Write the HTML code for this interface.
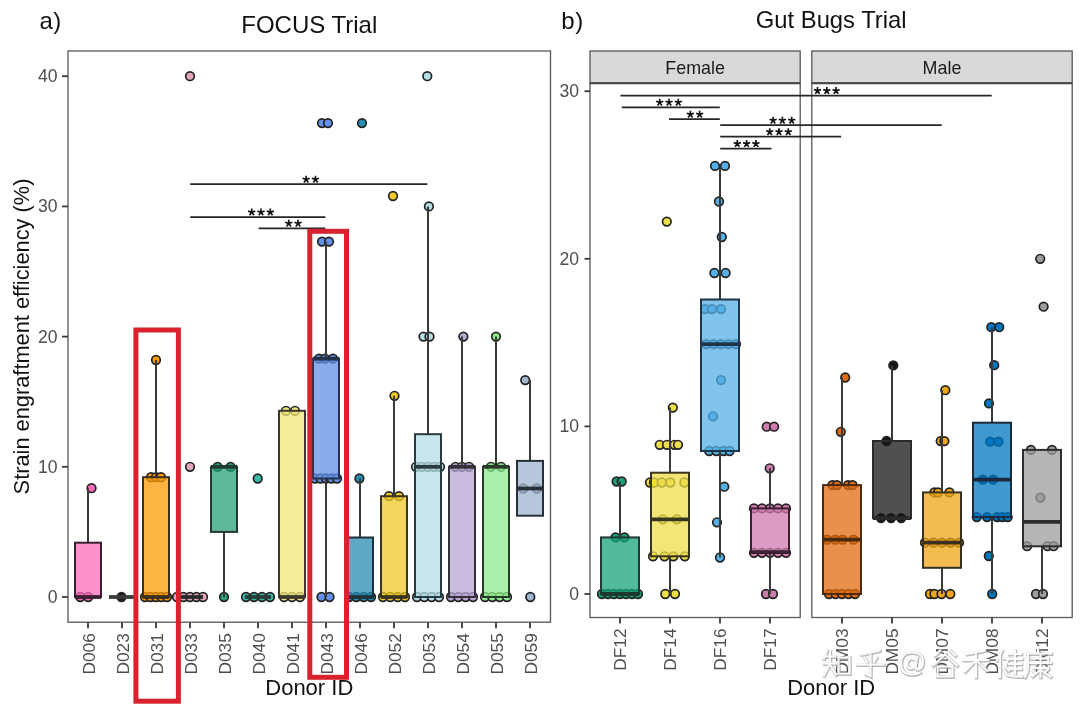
<!DOCTYPE html>
<html><head><meta charset="utf-8"><style>
html,body{margin:0;padding:0;background:#fff;width:1080px;height:708px;overflow:hidden;position:relative}
</style></head><body>
<svg width="1080" height="708" viewBox="0 0 1080 708" style="position:absolute;left:0;top:0;filter:blur(0.3px)">
<rect width="1080" height="708" fill="#ffffff"/>
<text x="39.6" y="29.3" font-family='"Liberation Sans", sans-serif' font-size="24" fill="#111">a</text><text x="53.2" y="29.3" font-family='"Liberation Sans", sans-serif' font-size="24" fill="#111">)</text>
<text x="309.3" y="33.3" text-anchor="middle" font-family='"Liberation Sans", sans-serif' font-size="24" fill="#111">FOCUS Trial</text>
<text x="561.3" y="29.1" font-family='"Liberation Sans", sans-serif' font-size="24" fill="#111">b</text><text x="575.2" y="29.1" font-family='"Liberation Sans", sans-serif' font-size="24" fill="#111">)</text>
<text x="831.2" y="28.2" text-anchor="middle" font-family='"Liberation Sans", sans-serif' font-size="23.8" fill="#111">Gut Bugs Trial</text>
<rect x="68" y="51" width="482.5" height="571.2" fill="none" stroke="#585858" stroke-width="1.3"/>
<line x1="62" y1="597.0" x2="68" y2="597.0" stroke="#3a3a3a" stroke-width="1.8"/>
<text x="57.5" y="603.0" text-anchor="end" font-family='"Liberation Sans", sans-serif' font-size="17.6" fill="#4d4d4d">0</text>
<line x1="62" y1="466.8" x2="68" y2="466.8" stroke="#3a3a3a" stroke-width="1.8"/>
<text x="57.5" y="472.8" text-anchor="end" font-family='"Liberation Sans", sans-serif' font-size="17.6" fill="#4d4d4d">10</text>
<line x1="62" y1="336.6" x2="68" y2="336.6" stroke="#3a3a3a" stroke-width="1.8"/>
<text x="57.5" y="342.6" text-anchor="end" font-family='"Liberation Sans", sans-serif' font-size="17.6" fill="#4d4d4d">20</text>
<line x1="62" y1="206.4" x2="68" y2="206.4" stroke="#3a3a3a" stroke-width="1.8"/>
<text x="57.5" y="212.4" text-anchor="end" font-family='"Liberation Sans", sans-serif' font-size="17.6" fill="#4d4d4d">30</text>
<line x1="62" y1="76.2" x2="68" y2="76.2" stroke="#3a3a3a" stroke-width="1.8"/>
<text x="57.5" y="82.2" text-anchor="end" font-family='"Liberation Sans", sans-serif' font-size="17.6" fill="#4d4d4d">40</text>
<line x1="88" y1="622.2" x2="88" y2="628.2" stroke="#3a3a3a" stroke-width="1.8"/>
<text transform="translate(94.6,633.2) rotate(-90)" text-anchor="end" font-family='"Liberation Sans", sans-serif' font-size="17.3" fill="#4d4d4d">D006</text>
<line x1="122" y1="622.2" x2="122" y2="628.2" stroke="#3a3a3a" stroke-width="1.8"/>
<text transform="translate(128.6,633.2) rotate(-90)" text-anchor="end" font-family='"Liberation Sans", sans-serif' font-size="17.3" fill="#4d4d4d">D023</text>
<line x1="156" y1="622.2" x2="156" y2="628.2" stroke="#3a3a3a" stroke-width="1.8"/>
<text transform="translate(162.6,633.2) rotate(-90)" text-anchor="end" font-family='"Liberation Sans", sans-serif' font-size="17.3" fill="#4d4d4d">D031</text>
<line x1="190" y1="622.2" x2="190" y2="628.2" stroke="#3a3a3a" stroke-width="1.8"/>
<text transform="translate(196.6,633.2) rotate(-90)" text-anchor="end" font-family='"Liberation Sans", sans-serif' font-size="17.3" fill="#4d4d4d">D033</text>
<line x1="224" y1="622.2" x2="224" y2="628.2" stroke="#3a3a3a" stroke-width="1.8"/>
<text transform="translate(230.6,633.2) rotate(-90)" text-anchor="end" font-family='"Liberation Sans", sans-serif' font-size="17.3" fill="#4d4d4d">D035</text>
<line x1="258" y1="622.2" x2="258" y2="628.2" stroke="#3a3a3a" stroke-width="1.8"/>
<text transform="translate(264.6,633.2) rotate(-90)" text-anchor="end" font-family='"Liberation Sans", sans-serif' font-size="17.3" fill="#4d4d4d">D040</text>
<line x1="292" y1="622.2" x2="292" y2="628.2" stroke="#3a3a3a" stroke-width="1.8"/>
<text transform="translate(298.6,633.2) rotate(-90)" text-anchor="end" font-family='"Liberation Sans", sans-serif' font-size="17.3" fill="#4d4d4d">D041</text>
<line x1="326" y1="622.2" x2="326" y2="628.2" stroke="#3a3a3a" stroke-width="1.8"/>
<text transform="translate(332.6,633.2) rotate(-90)" text-anchor="end" font-family='"Liberation Sans", sans-serif' font-size="17.3" fill="#4d4d4d">D043</text>
<line x1="360" y1="622.2" x2="360" y2="628.2" stroke="#3a3a3a" stroke-width="1.8"/>
<text transform="translate(366.6,633.2) rotate(-90)" text-anchor="end" font-family='"Liberation Sans", sans-serif' font-size="17.3" fill="#4d4d4d">D046</text>
<line x1="394" y1="622.2" x2="394" y2="628.2" stroke="#3a3a3a" stroke-width="1.8"/>
<text transform="translate(400.6,633.2) rotate(-90)" text-anchor="end" font-family='"Liberation Sans", sans-serif' font-size="17.3" fill="#4d4d4d">D052</text>
<line x1="428" y1="622.2" x2="428" y2="628.2" stroke="#3a3a3a" stroke-width="1.8"/>
<text transform="translate(434.6,633.2) rotate(-90)" text-anchor="end" font-family='"Liberation Sans", sans-serif' font-size="17.3" fill="#4d4d4d">D053</text>
<line x1="462" y1="622.2" x2="462" y2="628.2" stroke="#3a3a3a" stroke-width="1.8"/>
<text transform="translate(468.6,633.2) rotate(-90)" text-anchor="end" font-family='"Liberation Sans", sans-serif' font-size="17.3" fill="#4d4d4d">D054</text>
<line x1="496" y1="622.2" x2="496" y2="628.2" stroke="#3a3a3a" stroke-width="1.8"/>
<text transform="translate(502.6,633.2) rotate(-90)" text-anchor="end" font-family='"Liberation Sans", sans-serif' font-size="17.3" fill="#4d4d4d">D055</text>
<line x1="530" y1="622.2" x2="530" y2="628.2" stroke="#3a3a3a" stroke-width="1.8"/>
<text transform="translate(536.6,633.2) rotate(-90)" text-anchor="end" font-family='"Liberation Sans", sans-serif' font-size="17.3" fill="#4d4d4d">D059</text>
<text transform="translate(28.5,336.5) rotate(-90)" text-anchor="middle" font-family='"Liberation Sans", sans-serif' font-size="21.8" fill="#111">Strain engraftment efficiency (%)</text>
<text x="309.3" y="695" text-anchor="middle" font-family='"Liberation Sans", sans-serif' font-size="22" fill="#111">Donor ID</text>
<circle cx="80.3" cy="597.0" r="4.3" fill="#fb6bbb" stroke="#222" stroke-width="1.7" fill-opacity="1"/>
<circle cx="88.2" cy="597.0" r="4.3" fill="#fb6bbb" stroke="#222" stroke-width="1.7" fill-opacity="1"/>
<circle cx="91.5" cy="488.2" r="4.3" fill="#fb6bbb" stroke="#222" stroke-width="1.7" fill-opacity="1"/>
<line x1="88" y1="542.7" x2="88" y2="488.2" stroke="#3a3a3a" stroke-width="2"/>
<rect x="75.0" y="542.7" width="26" height="54.3" fill="#fb6bbb" fill-opacity="0.75" stroke="#3a2030" stroke-width="2"/>
<line x1="75.0" y1="597.0" x2="101.0" y2="597.0" stroke="#3a2030" stroke-width="3.8"/>
<circle cx="121.5" cy="597.0" r="4.3" fill="#1c1c1c" stroke="#222" stroke-width="1.7" fill-opacity="1"/>
<rect x="109.0" y="597.0" width="26" height="0.0" fill="#1c1c1c" fill-opacity="0.75" stroke="#3a3a3a" stroke-width="2"/>
<line x1="109.0" y1="597.0" x2="135.0" y2="597.0" stroke="#3a3a3a" stroke-width="3.8"/>
<circle cx="151.0" cy="477.2" r="4.3" fill="#fc9b04" stroke="#222" stroke-width="1.7" fill-opacity="1"/>
<circle cx="156.0" cy="477.2" r="4.3" fill="#fc9b04" stroke="#222" stroke-width="1.7" fill-opacity="1"/>
<circle cx="161.0" cy="477.2" r="4.3" fill="#fc9b04" stroke="#222" stroke-width="1.7" fill-opacity="1"/>
<circle cx="145.0" cy="597.0" r="4.3" fill="#fc9b04" stroke="#222" stroke-width="1.7" fill-opacity="1"/>
<circle cx="150.5" cy="597.0" r="4.3" fill="#fc9b04" stroke="#222" stroke-width="1.7" fill-opacity="1"/>
<circle cx="156.0" cy="597.0" r="4.3" fill="#fc9b04" stroke="#222" stroke-width="1.7" fill-opacity="1"/>
<circle cx="161.5" cy="597.0" r="4.3" fill="#fc9b04" stroke="#222" stroke-width="1.7" fill-opacity="1"/>
<circle cx="167.0" cy="597.0" r="4.3" fill="#fc9b04" stroke="#222" stroke-width="1.7" fill-opacity="1"/>
<circle cx="156.0" cy="360.0" r="4.3" fill="#fc9b04" stroke="#222" stroke-width="1.7" fill-opacity="1"/>
<line x1="156" y1="477.2" x2="156" y2="360.0" stroke="#3a3a3a" stroke-width="2"/>
<rect x="143.0" y="477.2" width="26" height="119.8" fill="#fc9b04" fill-opacity="0.75" stroke="#3a3020" stroke-width="2"/>
<line x1="143.0" y1="597.0" x2="169.0" y2="597.0" stroke="#3a3020" stroke-width="3.8"/>
<circle cx="177.0" cy="597.0" r="4.3" fill="#e6a6c0" stroke="#222" stroke-width="1.7" fill-opacity="1"/>
<circle cx="183.5" cy="597.0" r="4.3" fill="#e6a6c0" stroke="#222" stroke-width="1.7" fill-opacity="1"/>
<circle cx="190.0" cy="597.0" r="4.3" fill="#e6a6c0" stroke="#222" stroke-width="1.7" fill-opacity="1"/>
<circle cx="196.5" cy="597.0" r="4.3" fill="#e6a6c0" stroke="#222" stroke-width="1.7" fill-opacity="1"/>
<circle cx="203.0" cy="597.0" r="4.3" fill="#e6a6c0" stroke="#222" stroke-width="1.7" fill-opacity="1"/>
<circle cx="190.0" cy="76.2" r="4.3" fill="#e6a6c0" stroke="#222" stroke-width="1.7" fill-opacity="1"/>
<circle cx="190.0" cy="466.8" r="4.3" fill="#e6a6c0" stroke="#222" stroke-width="1.7" fill-opacity="1"/>
<rect x="177.0" y="597.0" width="26" height="0.0" fill="#e6a6c0" fill-opacity="0.75" stroke="#2a2a2a" stroke-width="2"/>
<line x1="177.0" y1="597.0" x2="203.0" y2="597.0" stroke="#2a2a2a" stroke-width="3.8"/>
<circle cx="217.6" cy="466.8" r="4.3" fill="#26a076" stroke="#222" stroke-width="1.7" fill-opacity="1"/>
<circle cx="230.6" cy="466.8" r="4.3" fill="#26a076" stroke="#222" stroke-width="1.7" fill-opacity="1"/>
<circle cx="224.0" cy="597.0" r="4.3" fill="#26a076" stroke="#222" stroke-width="1.7" fill-opacity="1"/>
<line x1="224" y1="531.9" x2="224" y2="597.0" stroke="#3a3a3a" stroke-width="2"/>
<rect x="211.0" y="466.8" width="26" height="65.1" fill="#26a076" fill-opacity="0.75" stroke="#203a30" stroke-width="2"/>
<line x1="211.0" y1="466.8" x2="237.0" y2="466.8" stroke="#203a30" stroke-width="3.8"/>
<circle cx="246.0" cy="597.0" r="4.3" fill="#3bb6a4" stroke="#222" stroke-width="1.7" fill-opacity="1"/>
<circle cx="254.0" cy="597.0" r="4.3" fill="#3bb6a4" stroke="#222" stroke-width="1.7" fill-opacity="1"/>
<circle cx="262.0" cy="597.0" r="4.3" fill="#3bb6a4" stroke="#222" stroke-width="1.7" fill-opacity="1"/>
<circle cx="270.0" cy="597.0" r="4.3" fill="#3bb6a4" stroke="#222" stroke-width="1.7" fill-opacity="1"/>
<circle cx="257.7" cy="478.5" r="4.3" fill="#3bb6a4" stroke="#222" stroke-width="1.7" fill-opacity="1"/>
<rect x="245.0" y="597.0" width="26" height="0.0" fill="#3bb6a4" fill-opacity="0.75" stroke="#2a3a38" stroke-width="2"/>
<line x1="245.0" y1="597.0" x2="271.0" y2="597.0" stroke="#2a3a38" stroke-width="3.8"/>
<circle cx="286.0" cy="410.8" r="4.3" fill="#f2e67b" stroke="#222" stroke-width="1.7" fill-opacity="1"/>
<circle cx="295.0" cy="410.8" r="4.3" fill="#f2e67b" stroke="#222" stroke-width="1.7" fill-opacity="1"/>
<circle cx="284.0" cy="597.0" r="4.3" fill="#f2e67b" stroke="#222" stroke-width="1.7" fill-opacity="1"/>
<circle cx="292.0" cy="597.0" r="4.3" fill="#f2e67b" stroke="#222" stroke-width="1.7" fill-opacity="1"/>
<circle cx="300.0" cy="597.0" r="4.3" fill="#f2e67b" stroke="#222" stroke-width="1.7" fill-opacity="1"/>
<rect x="279.0" y="410.8" width="26" height="186.2" fill="#f2e67b" fill-opacity="0.75" stroke="#3a3830" stroke-width="2"/>
<line x1="279.0" y1="597.0" x2="305.0" y2="597.0" stroke="#3a3830" stroke-width="3.8"/>
<circle cx="322.0" cy="123.1" r="4.3" fill="#6390e8" stroke="#222" stroke-width="1.7" fill-opacity="1"/>
<circle cx="328.0" cy="123.1" r="4.3" fill="#6390e8" stroke="#222" stroke-width="1.7" fill-opacity="1"/>
<circle cx="322.0" cy="241.6" r="4.3" fill="#6390e8" stroke="#222" stroke-width="1.7" fill-opacity="1"/>
<circle cx="329.0" cy="241.6" r="4.3" fill="#6390e8" stroke="#222" stroke-width="1.7" fill-opacity="1"/>
<circle cx="319.0" cy="358.7" r="4.3" fill="#6390e8" stroke="#222" stroke-width="1.7" fill-opacity="1"/>
<circle cx="325.0" cy="358.7" r="4.3" fill="#6390e8" stroke="#222" stroke-width="1.7" fill-opacity="1"/>
<circle cx="333.0" cy="358.7" r="4.3" fill="#6390e8" stroke="#222" stroke-width="1.7" fill-opacity="1"/>
<circle cx="315.0" cy="478.5" r="4.3" fill="#6390e8" stroke="#222" stroke-width="1.7" fill-opacity="1"/>
<circle cx="320.5" cy="478.5" r="4.3" fill="#6390e8" stroke="#222" stroke-width="1.7" fill-opacity="1"/>
<circle cx="326.0" cy="478.5" r="4.3" fill="#6390e8" stroke="#222" stroke-width="1.7" fill-opacity="1"/>
<circle cx="331.5" cy="478.5" r="4.3" fill="#6390e8" stroke="#222" stroke-width="1.7" fill-opacity="1"/>
<circle cx="337.0" cy="478.5" r="4.3" fill="#6390e8" stroke="#222" stroke-width="1.7" fill-opacity="1"/>
<circle cx="321.5" cy="597.0" r="4.3" fill="#6390e8" stroke="#222" stroke-width="1.7" fill-opacity="1"/>
<circle cx="329.5" cy="597.0" r="4.3" fill="#6390e8" stroke="#222" stroke-width="1.7" fill-opacity="1"/>
<line x1="326" y1="358.7" x2="326" y2="241.6" stroke="#3a3a3a" stroke-width="2"/>
<line x1="326" y1="478.5" x2="326" y2="597.0" stroke="#3a3a3a" stroke-width="2"/>
<rect x="313.0" y="358.7" width="26" height="119.8" fill="#6390e8" fill-opacity="0.75" stroke="#22304a" stroke-width="2"/>
<line x1="313.0" y1="358.7" x2="339.0" y2="358.7" stroke="#22304a" stroke-width="3.8"/>
<circle cx="362.0" cy="123.1" r="4.3" fill="#288eb0" stroke="#222" stroke-width="1.7" fill-opacity="1"/>
<circle cx="359.4" cy="478.5" r="4.3" fill="#288eb0" stroke="#222" stroke-width="1.7" fill-opacity="1"/>
<circle cx="349.0" cy="597.0" r="4.3" fill="#288eb0" stroke="#222" stroke-width="1.7" fill-opacity="1"/>
<circle cx="356.3" cy="597.0" r="4.3" fill="#288eb0" stroke="#222" stroke-width="1.7" fill-opacity="1"/>
<circle cx="363.7" cy="597.0" r="4.3" fill="#288eb0" stroke="#222" stroke-width="1.7" fill-opacity="1"/>
<circle cx="371.0" cy="597.0" r="4.3" fill="#288eb0" stroke="#222" stroke-width="1.7" fill-opacity="1"/>
<line x1="360" y1="537.5" x2="360" y2="478.5" stroke="#3a3a3a" stroke-width="2"/>
<rect x="347.0" y="537.5" width="26" height="59.5" fill="#288eb0" fill-opacity="0.75" stroke="#203038" stroke-width="2"/>
<line x1="347.0" y1="597.0" x2="373.0" y2="597.0" stroke="#203038" stroke-width="3.8"/>
<circle cx="393.0" cy="196.0" r="4.3" fill="#efca26" stroke="#222" stroke-width="1.7" fill-opacity="1"/>
<circle cx="394.5" cy="395.8" r="4.3" fill="#efca26" stroke="#222" stroke-width="1.7" fill-opacity="1"/>
<circle cx="389.0" cy="496.2" r="4.3" fill="#efca26" stroke="#222" stroke-width="1.7" fill-opacity="1"/>
<circle cx="399.0" cy="496.2" r="4.3" fill="#efca26" stroke="#222" stroke-width="1.7" fill-opacity="1"/>
<circle cx="383.0" cy="597.0" r="4.3" fill="#efca26" stroke="#222" stroke-width="1.7" fill-opacity="1"/>
<circle cx="390.3" cy="597.0" r="4.3" fill="#efca26" stroke="#222" stroke-width="1.7" fill-opacity="1"/>
<circle cx="397.7" cy="597.0" r="4.3" fill="#efca26" stroke="#222" stroke-width="1.7" fill-opacity="1"/>
<circle cx="405.0" cy="597.0" r="4.3" fill="#efca26" stroke="#222" stroke-width="1.7" fill-opacity="1"/>
<line x1="394" y1="496.2" x2="394" y2="395.8" stroke="#3a3a3a" stroke-width="2"/>
<rect x="381.0" y="496.2" width="26" height="100.8" fill="#efca26" fill-opacity="0.75" stroke="#3a3420" stroke-width="2"/>
<line x1="381.0" y1="597.0" x2="407.0" y2="597.0" stroke="#3a3420" stroke-width="3.8"/>
<circle cx="427.3" cy="76.2" r="4.3" fill="#b6dee6" stroke="#222" stroke-width="1.7" fill-opacity="1"/>
<circle cx="428.9" cy="206.4" r="4.3" fill="#b6dee6" stroke="#222" stroke-width="1.7" fill-opacity="1"/>
<circle cx="423.5" cy="336.6" r="4.3" fill="#b6dee6" stroke="#222" stroke-width="1.7" fill-opacity="1"/>
<circle cx="429.5" cy="336.6" r="4.3" fill="#b6dee6" stroke="#222" stroke-width="1.7" fill-opacity="1"/>
<circle cx="416.0" cy="466.8" r="4.3" fill="#b6dee6" stroke="#222" stroke-width="1.7" fill-opacity="1"/>
<circle cx="422.0" cy="466.8" r="4.3" fill="#b6dee6" stroke="#222" stroke-width="1.7" fill-opacity="1"/>
<circle cx="428.0" cy="466.8" r="4.3" fill="#b6dee6" stroke="#222" stroke-width="1.7" fill-opacity="1"/>
<circle cx="434.0" cy="466.8" r="4.3" fill="#b6dee6" stroke="#222" stroke-width="1.7" fill-opacity="1"/>
<circle cx="440.0" cy="466.8" r="4.3" fill="#b6dee6" stroke="#222" stroke-width="1.7" fill-opacity="1"/>
<circle cx="417.0" cy="597.0" r="4.3" fill="#b6dee6" stroke="#222" stroke-width="1.7" fill-opacity="1"/>
<circle cx="424.3" cy="597.0" r="4.3" fill="#b6dee6" stroke="#222" stroke-width="1.7" fill-opacity="1"/>
<circle cx="431.7" cy="597.0" r="4.3" fill="#b6dee6" stroke="#222" stroke-width="1.7" fill-opacity="1"/>
<circle cx="439.0" cy="597.0" r="4.3" fill="#b6dee6" stroke="#222" stroke-width="1.7" fill-opacity="1"/>
<line x1="428" y1="434.2" x2="428" y2="206.4" stroke="#3a3a3a" stroke-width="2"/>
<rect x="415.0" y="434.2" width="26" height="162.8" fill="#b6dee6" fill-opacity="0.75" stroke="#2a3a3e" stroke-width="2"/>
<line x1="415.0" y1="466.8" x2="441.0" y2="466.8" stroke="#2a3a3e" stroke-width="3.8"/>
<circle cx="463.4" cy="336.6" r="4.3" fill="#baa7d6" stroke="#222" stroke-width="1.7" fill-opacity="1"/>
<circle cx="455.5" cy="466.8" r="4.3" fill="#baa7d6" stroke="#222" stroke-width="1.7" fill-opacity="1"/>
<circle cx="462.0" cy="466.8" r="4.3" fill="#baa7d6" stroke="#222" stroke-width="1.7" fill-opacity="1"/>
<circle cx="469.0" cy="466.8" r="4.3" fill="#baa7d6" stroke="#222" stroke-width="1.7" fill-opacity="1"/>
<circle cx="451.0" cy="597.0" r="4.3" fill="#baa7d6" stroke="#222" stroke-width="1.7" fill-opacity="1"/>
<circle cx="458.3" cy="597.0" r="4.3" fill="#baa7d6" stroke="#222" stroke-width="1.7" fill-opacity="1"/>
<circle cx="465.7" cy="597.0" r="4.3" fill="#baa7d6" stroke="#222" stroke-width="1.7" fill-opacity="1"/>
<circle cx="473.0" cy="597.0" r="4.3" fill="#baa7d6" stroke="#222" stroke-width="1.7" fill-opacity="1"/>
<line x1="462" y1="466.8" x2="462" y2="336.6" stroke="#3a3a3a" stroke-width="2"/>
<rect x="449.0" y="466.8" width="26" height="130.2" fill="#baa7d6" fill-opacity="0.75" stroke="#33303a" stroke-width="2"/>
<line x1="449.0" y1="466.8" x2="475.0" y2="466.8" stroke="#33303a" stroke-width="3.8"/>
<circle cx="496.0" cy="336.6" r="4.3" fill="#8eeb8e" stroke="#222" stroke-width="1.7" fill-opacity="1"/>
<circle cx="491.0" cy="466.8" r="4.3" fill="#8eeb8e" stroke="#222" stroke-width="1.7" fill-opacity="1"/>
<circle cx="501.0" cy="466.8" r="4.3" fill="#8eeb8e" stroke="#222" stroke-width="1.7" fill-opacity="1"/>
<circle cx="485.0" cy="597.0" r="4.3" fill="#8eeb8e" stroke="#222" stroke-width="1.7" fill-opacity="1"/>
<circle cx="492.3" cy="597.0" r="4.3" fill="#8eeb8e" stroke="#222" stroke-width="1.7" fill-opacity="1"/>
<circle cx="499.7" cy="597.0" r="4.3" fill="#8eeb8e" stroke="#222" stroke-width="1.7" fill-opacity="1"/>
<circle cx="507.0" cy="597.0" r="4.3" fill="#8eeb8e" stroke="#222" stroke-width="1.7" fill-opacity="1"/>
<line x1="496" y1="466.8" x2="496" y2="336.6" stroke="#3a3a3a" stroke-width="2"/>
<rect x="483.0" y="466.8" width="26" height="130.2" fill="#8eeb8e" fill-opacity="0.75" stroke="#2a3a2a" stroke-width="2"/>
<line x1="483.0" y1="466.8" x2="509.0" y2="466.8" stroke="#2a3a2a" stroke-width="3.8"/>
<circle cx="525.2" cy="380.1" r="4.3" fill="#a0b6d0" stroke="#222" stroke-width="1.7" fill-opacity="1"/>
<circle cx="530.3" cy="597.0" r="4.3" fill="#a0b6d0" stroke="#222" stroke-width="1.7" fill-opacity="1"/>
<circle cx="523.2" cy="488.5" r="4.3" fill="#a0b6d0" stroke="#222" stroke-width="1.7" fill-opacity="1"/>
<circle cx="536.8" cy="488.5" r="4.3" fill="#a0b6d0" stroke="#222" stroke-width="1.7" fill-opacity="1"/>
<line x1="530" y1="460.9" x2="530" y2="380.1" stroke="#3a3a3a" stroke-width="2"/>
<rect x="517.0" y="460.9" width="26" height="54.8" fill="#a0b6d0" fill-opacity="0.75" stroke="#2a3038" stroke-width="2"/>
<line x1="517.0" y1="488.5" x2="543.0" y2="488.5" stroke="#2a3038" stroke-width="3.8"/>
<line x1="190.2" y1="184.2" x2="427.3" y2="184.2" stroke="#262626" stroke-width="1.7"/><path d="M306.15 179.40L306.15 175.65M306.15 179.40L309.72 178.24M306.15 179.40L308.35 182.43M306.15 179.40L303.95 182.43M306.15 179.40L302.58 178.24" stroke="#111" stroke-width="1.65" fill="none" stroke-linecap="butt"/><path d="M315.45 179.40L315.45 175.65M315.45 179.40L319.02 178.24M315.45 179.40L317.65 182.43M315.45 179.40L313.25 182.43M315.45 179.40L311.88 178.24" stroke="#111" stroke-width="1.65" fill="none" stroke-linecap="butt"/>
<line x1="190.2" y1="217.1" x2="325.4" y2="217.1" stroke="#262626" stroke-width="1.7"/><path d="M251.70 212.30L251.70 208.55M251.70 212.30L255.27 211.14M251.70 212.30L253.90 215.33M251.70 212.30L249.50 215.33M251.70 212.30L248.13 211.14" stroke="#111" stroke-width="1.65" fill="none" stroke-linecap="butt"/><path d="M261.00 212.30L261.00 208.55M261.00 212.30L264.57 211.14M261.00 212.30L263.20 215.33M261.00 212.30L258.80 215.33M261.00 212.30L257.43 211.14" stroke="#111" stroke-width="1.65" fill="none" stroke-linecap="butt"/><path d="M270.30 212.30L270.30 208.55M270.30 212.30L273.87 211.14M270.30 212.30L272.50 215.33M270.30 212.30L268.10 215.33M270.30 212.30L266.73 211.14" stroke="#111" stroke-width="1.65" fill="none" stroke-linecap="butt"/>
<line x1="258.6" y1="228.3" x2="325.4" y2="228.3" stroke="#262626" stroke-width="1.7"/><path d="M288.75 223.50L288.75 219.75M288.75 223.50L292.32 222.34M288.75 223.50L290.95 226.53M288.75 223.50L286.55 226.53M288.75 223.50L285.18 222.34" stroke="#111" stroke-width="1.65" fill="none" stroke-linecap="butt"/><path d="M298.05 223.50L298.05 219.75M298.05 223.50L301.62 222.34M298.05 223.50L300.25 226.53M298.05 223.50L295.85 226.53M298.05 223.50L294.48 222.34" stroke="#111" stroke-width="1.65" fill="none" stroke-linecap="butt"/>
<rect x="135.9" y="330" width="42.5" height="371.2" fill="none" stroke="#d8232f" stroke-width="5"/>
<rect x="309.8" y="231.3" width="36.7" height="446" fill="none" stroke="#d8232f" stroke-width="5"/>
<rect x="590" y="51" width="210.20000000000005" height="32.3" fill="#d9d9d9" stroke="#585858" stroke-width="1.3"/>
<text x="695.1" y="73.9" text-anchor="middle" font-family='"Liberation Sans", sans-serif' font-size="17.9" fill="#1a1a1a">Female</text>
<rect x="590" y="83.3" width="210.20000000000005" height="534.2" fill="none" stroke="#585858" stroke-width="1.3"/>
<line x1="590" y1="83.3" x2="800.2" y2="83.3" stroke="#444" stroke-width="2"/>
<rect x="811.8" y="51" width="260.4000000000001" height="32.3" fill="#d9d9d9" stroke="#585858" stroke-width="1.3"/>
<text x="942.0" y="73.9" text-anchor="middle" font-family='"Liberation Sans", sans-serif' font-size="17.9" fill="#1a1a1a">Male</text>
<rect x="811.8" y="83.3" width="260.4000000000001" height="534.2" fill="none" stroke="#585858" stroke-width="1.3"/>
<line x1="811.8" y1="83.3" x2="1072.2" y2="83.3" stroke="#444" stroke-width="2"/>
<line x1="584.5" y1="594.0" x2="590" y2="594.0" stroke="#3a3a3a" stroke-width="1.8"/>
<text x="579" y="600.0" text-anchor="end" font-family='"Liberation Sans", sans-serif' font-size="17.6" fill="#4d4d4d">0</text>
<line x1="584.5" y1="426.4" x2="590" y2="426.4" stroke="#3a3a3a" stroke-width="1.8"/>
<text x="579" y="432.4" text-anchor="end" font-family='"Liberation Sans", sans-serif' font-size="17.6" fill="#4d4d4d">10</text>
<line x1="584.5" y1="258.8" x2="590" y2="258.8" stroke="#3a3a3a" stroke-width="1.8"/>
<text x="579" y="264.8" text-anchor="end" font-family='"Liberation Sans", sans-serif' font-size="17.6" fill="#4d4d4d">20</text>
<line x1="584.5" y1="91.2" x2="590" y2="91.2" stroke="#3a3a3a" stroke-width="1.8"/>
<text x="579" y="97.2" text-anchor="end" font-family='"Liberation Sans", sans-serif' font-size="17.6" fill="#4d4d4d">30</text>
<line x1="620" y1="617.5" x2="620" y2="623.5" stroke="#3a3a3a" stroke-width="1.8"/>
<text transform="translate(626.1,628.5) rotate(-90)" text-anchor="end" font-family='"Liberation Sans", sans-serif' font-size="17.3" fill="#4d4d4d">DF12</text>
<line x1="670" y1="617.5" x2="670" y2="623.5" stroke="#3a3a3a" stroke-width="1.8"/>
<text transform="translate(676.1,628.5) rotate(-90)" text-anchor="end" font-family='"Liberation Sans", sans-serif' font-size="17.3" fill="#4d4d4d">DF14</text>
<line x1="720" y1="617.5" x2="720" y2="623.5" stroke="#3a3a3a" stroke-width="1.8"/>
<text transform="translate(726.1,628.5) rotate(-90)" text-anchor="end" font-family='"Liberation Sans", sans-serif' font-size="17.3" fill="#4d4d4d">DF16</text>
<line x1="770" y1="617.5" x2="770" y2="623.5" stroke="#3a3a3a" stroke-width="1.8"/>
<text transform="translate(776.1,628.5) rotate(-90)" text-anchor="end" font-family='"Liberation Sans", sans-serif' font-size="17.3" fill="#4d4d4d">DF17</text>
<line x1="842" y1="617.5" x2="842" y2="623.5" stroke="#3a3a3a" stroke-width="1.8"/>
<text transform="translate(848.1,628.5) rotate(-90)" text-anchor="end" font-family='"Liberation Sans", sans-serif' font-size="17.3" fill="#4d4d4d">DM03</text>
<line x1="892" y1="617.5" x2="892" y2="623.5" stroke="#3a3a3a" stroke-width="1.8"/>
<text transform="translate(898.1,628.5) rotate(-90)" text-anchor="end" font-family='"Liberation Sans", sans-serif' font-size="17.3" fill="#4d4d4d">DM05</text>
<line x1="942" y1="617.5" x2="942" y2="623.5" stroke="#3a3a3a" stroke-width="1.8"/>
<text transform="translate(948.1,628.5) rotate(-90)" text-anchor="end" font-family='"Liberation Sans", sans-serif' font-size="17.3" fill="#4d4d4d">DM07</text>
<line x1="992" y1="617.5" x2="992" y2="623.5" stroke="#3a3a3a" stroke-width="1.8"/>
<text transform="translate(998.1,628.5) rotate(-90)" text-anchor="end" font-family='"Liberation Sans", sans-serif' font-size="17.3" fill="#4d4d4d">DM08</text>
<line x1="1042" y1="617.5" x2="1042" y2="623.5" stroke="#3a3a3a" stroke-width="1.8"/>
<text transform="translate(1048.1,628.5) rotate(-90)" text-anchor="end" font-family='"Liberation Sans", sans-serif' font-size="17.3" fill="#4d4d4d">DM12</text>
<text x="831.2" y="694.5" text-anchor="middle" font-family='"Liberation Sans", sans-serif' font-size="22" fill="#111">Donor ID</text>
<circle cx="616.6" cy="481.5" r="4.3" fill="#18a37b" stroke="#222" stroke-width="1.7" fill-opacity="1"/>
<circle cx="621.7" cy="481.5" r="4.3" fill="#18a37b" stroke="#222" stroke-width="1.7" fill-opacity="1"/>
<circle cx="615.5" cy="537.4" r="4.3" fill="#18a37b" stroke="#222" stroke-width="1.7" fill-opacity="1"/>
<circle cx="624.5" cy="537.4" r="4.3" fill="#18a37b" stroke="#222" stroke-width="1.7" fill-opacity="1"/>
<circle cx="602.0" cy="594.0" r="4.3" fill="#18a37b" stroke="#222" stroke-width="1.7" fill-opacity="1"/>
<circle cx="608.0" cy="594.0" r="4.3" fill="#18a37b" stroke="#222" stroke-width="1.7" fill-opacity="1"/>
<circle cx="614.0" cy="594.0" r="4.3" fill="#18a37b" stroke="#222" stroke-width="1.7" fill-opacity="1"/>
<circle cx="620.0" cy="594.0" r="4.3" fill="#18a37b" stroke="#222" stroke-width="1.7" fill-opacity="1"/>
<circle cx="626.0" cy="594.0" r="4.3" fill="#18a37b" stroke="#222" stroke-width="1.7" fill-opacity="1"/>
<circle cx="632.0" cy="594.0" r="4.3" fill="#18a37b" stroke="#222" stroke-width="1.7" fill-opacity="1"/>
<circle cx="638.0" cy="594.0" r="4.3" fill="#18a37b" stroke="#222" stroke-width="1.7" fill-opacity="1"/>
<line x1="620" y1="537.4" x2="620" y2="481.5" stroke="#3a3a3a" stroke-width="2"/>
<rect x="601.0" y="537.4" width="38" height="56.6" fill="#18a37b" fill-opacity="0.75" stroke="#1e3a30" stroke-width="2"/>
<line x1="601.0" y1="594.0" x2="639.0" y2="594.0" stroke="#1e3a30" stroke-width="3.8"/>
<circle cx="666.8" cy="221.6" r="4.3" fill="#eede48" stroke="#222" stroke-width="1.7" fill-opacity="1"/>
<circle cx="672.8" cy="407.6" r="4.3" fill="#eede48" stroke="#222" stroke-width="1.7" fill-opacity="1"/>
<circle cx="659.7" cy="444.8" r="4.3" fill="#eede48" stroke="#222" stroke-width="1.7" fill-opacity="1"/>
<circle cx="667.0" cy="444.8" r="4.3" fill="#eede48" stroke="#222" stroke-width="1.7" fill-opacity="1"/>
<circle cx="674.5" cy="444.8" r="4.3" fill="#eede48" stroke="#222" stroke-width="1.7" fill-opacity="1"/>
<circle cx="678.0" cy="444.8" r="4.3" fill="#eede48" stroke="#222" stroke-width="1.7" fill-opacity="1"/>
<circle cx="650.0" cy="482.5" r="4.3" fill="#eede48" stroke="#222" stroke-width="1.7" fill-opacity="1"/>
<circle cx="654.0" cy="482.5" r="4.3" fill="#eede48" stroke="#222" stroke-width="1.7" fill-opacity="1"/>
<circle cx="661.8" cy="482.5" r="4.3" fill="#eede48" stroke="#222" stroke-width="1.7" fill-opacity="1"/>
<circle cx="670.3" cy="482.5" r="4.3" fill="#eede48" stroke="#222" stroke-width="1.7" fill-opacity="1"/>
<circle cx="684.4" cy="482.5" r="4.3" fill="#eede48" stroke="#222" stroke-width="1.7" fill-opacity="1"/>
<circle cx="662.7" cy="519.3" r="4.3" fill="#eede48" stroke="#222" stroke-width="1.7" fill-opacity="1"/>
<circle cx="676.8" cy="519.3" r="4.3" fill="#eede48" stroke="#222" stroke-width="1.7" fill-opacity="1"/>
<circle cx="653.0" cy="556.3" r="4.3" fill="#eede48" stroke="#222" stroke-width="1.7" fill-opacity="1"/>
<circle cx="664.5" cy="556.3" r="4.3" fill="#eede48" stroke="#222" stroke-width="1.7" fill-opacity="1"/>
<circle cx="673.3" cy="556.3" r="4.3" fill="#eede48" stroke="#222" stroke-width="1.7" fill-opacity="1"/>
<circle cx="684.8" cy="556.3" r="4.3" fill="#eede48" stroke="#222" stroke-width="1.7" fill-opacity="1"/>
<circle cx="665.3" cy="594.0" r="4.3" fill="#eede48" stroke="#222" stroke-width="1.7" fill-opacity="1"/>
<circle cx="675.0" cy="594.0" r="4.3" fill="#eede48" stroke="#222" stroke-width="1.7" fill-opacity="1"/>
<line x1="670" y1="472.7" x2="670" y2="407.6" stroke="#3a3a3a" stroke-width="2"/>
<line x1="670" y1="556.3" x2="670" y2="594.0" stroke="#3a3a3a" stroke-width="2"/>
<rect x="651.0" y="472.7" width="38" height="83.6" fill="#eede48" fill-opacity="0.75" stroke="#38341e" stroke-width="2"/>
<line x1="651.0" y1="519.3" x2="689.0" y2="519.3" stroke="#38341e" stroke-width="3.8"/>
<circle cx="715.0" cy="165.9" r="4.3" fill="#56b0e8" stroke="#222" stroke-width="1.7" fill-opacity="1"/>
<circle cx="725.0" cy="165.9" r="4.3" fill="#56b0e8" stroke="#222" stroke-width="1.7" fill-opacity="1"/>
<circle cx="719.0" cy="201.5" r="4.3" fill="#56b0e8" stroke="#222" stroke-width="1.7" fill-opacity="1"/>
<circle cx="721.8" cy="237.0" r="4.3" fill="#56b0e8" stroke="#222" stroke-width="1.7" fill-opacity="1"/>
<circle cx="714.4" cy="273.0" r="4.3" fill="#56b0e8" stroke="#222" stroke-width="1.7" fill-opacity="1"/>
<circle cx="725.6" cy="273.0" r="4.3" fill="#56b0e8" stroke="#222" stroke-width="1.7" fill-opacity="1"/>
<circle cx="705.0" cy="309.1" r="4.3" fill="#56b0e8" stroke="#222" stroke-width="1.7" fill-opacity="1"/>
<circle cx="712.0" cy="309.1" r="4.3" fill="#56b0e8" stroke="#222" stroke-width="1.7" fill-opacity="1"/>
<circle cx="721.0" cy="309.1" r="4.3" fill="#56b0e8" stroke="#222" stroke-width="1.7" fill-opacity="1"/>
<circle cx="706.0" cy="344.1" r="4.3" fill="#56b0e8" stroke="#222" stroke-width="1.7" fill-opacity="1"/>
<circle cx="713.5" cy="344.1" r="4.3" fill="#56b0e8" stroke="#222" stroke-width="1.7" fill-opacity="1"/>
<circle cx="721.0" cy="344.1" r="4.3" fill="#56b0e8" stroke="#222" stroke-width="1.7" fill-opacity="1"/>
<circle cx="728.5" cy="344.1" r="4.3" fill="#56b0e8" stroke="#222" stroke-width="1.7" fill-opacity="1"/>
<circle cx="736.0" cy="344.1" r="4.3" fill="#56b0e8" stroke="#222" stroke-width="1.7" fill-opacity="1"/>
<circle cx="721.0" cy="380.1" r="4.3" fill="#56b0e8" stroke="#222" stroke-width="1.7" fill-opacity="1"/>
<circle cx="713.0" cy="416.3" r="4.3" fill="#56b0e8" stroke="#222" stroke-width="1.7" fill-opacity="1"/>
<circle cx="709.2" cy="451.0" r="4.3" fill="#56b0e8" stroke="#222" stroke-width="1.7" fill-opacity="1"/>
<circle cx="716.4" cy="451.0" r="4.3" fill="#56b0e8" stroke="#222" stroke-width="1.7" fill-opacity="1"/>
<circle cx="723.6" cy="451.0" r="4.3" fill="#56b0e8" stroke="#222" stroke-width="1.7" fill-opacity="1"/>
<circle cx="729.6" cy="451.0" r="4.3" fill="#56b0e8" stroke="#222" stroke-width="1.7" fill-opacity="1"/>
<circle cx="724.3" cy="486.7" r="4.3" fill="#56b0e8" stroke="#222" stroke-width="1.7" fill-opacity="1"/>
<circle cx="717.0" cy="522.3" r="4.3" fill="#56b0e8" stroke="#222" stroke-width="1.7" fill-opacity="1"/>
<circle cx="720.0" cy="557.5" r="4.3" fill="#56b0e8" stroke="#222" stroke-width="1.7" fill-opacity="1"/>
<line x1="720" y1="299.5" x2="720" y2="165.9" stroke="#3a3a3a" stroke-width="2"/>
<line x1="720" y1="451.0" x2="720" y2="557.5" stroke="#3a3a3a" stroke-width="2"/>
<rect x="701.0" y="299.5" width="38" height="151.5" fill="#56b0e8" fill-opacity="0.75" stroke="#1e3448" stroke-width="2"/>
<line x1="701.0" y1="344.1" x2="739.0" y2="344.1" stroke="#1e3448" stroke-width="3.8"/>
<circle cx="766.7" cy="426.7" r="4.3" fill="#d07bb0" stroke="#222" stroke-width="1.7" fill-opacity="1"/>
<circle cx="774.1" cy="426.7" r="4.3" fill="#d07bb0" stroke="#222" stroke-width="1.7" fill-opacity="1"/>
<circle cx="769.7" cy="468.3" r="4.3" fill="#d07bb0" stroke="#222" stroke-width="1.7" fill-opacity="1"/>
<circle cx="754.0" cy="508.4" r="4.3" fill="#d07bb0" stroke="#222" stroke-width="1.7" fill-opacity="1"/>
<circle cx="762.0" cy="508.4" r="4.3" fill="#d07bb0" stroke="#222" stroke-width="1.7" fill-opacity="1"/>
<circle cx="770.0" cy="508.4" r="4.3" fill="#d07bb0" stroke="#222" stroke-width="1.7" fill-opacity="1"/>
<circle cx="778.0" cy="508.4" r="4.3" fill="#d07bb0" stroke="#222" stroke-width="1.7" fill-opacity="1"/>
<circle cx="786.0" cy="508.4" r="4.3" fill="#d07bb0" stroke="#222" stroke-width="1.7" fill-opacity="1"/>
<circle cx="754.0" cy="552.8" r="4.3" fill="#d07bb0" stroke="#222" stroke-width="1.7" fill-opacity="1"/>
<circle cx="762.0" cy="552.8" r="4.3" fill="#d07bb0" stroke="#222" stroke-width="1.7" fill-opacity="1"/>
<circle cx="770.0" cy="552.8" r="4.3" fill="#d07bb0" stroke="#222" stroke-width="1.7" fill-opacity="1"/>
<circle cx="778.0" cy="552.8" r="4.3" fill="#d07bb0" stroke="#222" stroke-width="1.7" fill-opacity="1"/>
<circle cx="786.0" cy="552.8" r="4.3" fill="#d07bb0" stroke="#222" stroke-width="1.7" fill-opacity="1"/>
<circle cx="766.0" cy="594.0" r="4.3" fill="#d07bb0" stroke="#222" stroke-width="1.7" fill-opacity="1"/>
<circle cx="773.0" cy="594.0" r="4.3" fill="#d07bb0" stroke="#222" stroke-width="1.7" fill-opacity="1"/>
<line x1="770" y1="508.4" x2="770" y2="468.3" stroke="#3a3a3a" stroke-width="2"/>
<line x1="770" y1="552.8" x2="770" y2="594.0" stroke="#3a3a3a" stroke-width="2"/>
<rect x="751.0" y="508.4" width="38" height="44.4" fill="#d07bb0" fill-opacity="0.75" stroke="#3a2030" stroke-width="2"/>
<line x1="751.0" y1="552.1" x2="789.0" y2="552.1" stroke="#3a2030" stroke-width="3.8"/>
<circle cx="845.2" cy="377.5" r="4.3" fill="#e06b10" stroke="#222" stroke-width="1.7" fill-opacity="1"/>
<circle cx="840.8" cy="431.8" r="4.3" fill="#e06b10" stroke="#222" stroke-width="1.7" fill-opacity="1"/>
<circle cx="832.4" cy="485.1" r="4.3" fill="#e06b10" stroke="#222" stroke-width="1.7" fill-opacity="1"/>
<circle cx="837.0" cy="485.1" r="4.3" fill="#e06b10" stroke="#222" stroke-width="1.7" fill-opacity="1"/>
<circle cx="848.0" cy="485.1" r="4.3" fill="#e06b10" stroke="#222" stroke-width="1.7" fill-opacity="1"/>
<circle cx="852.6" cy="485.1" r="4.3" fill="#e06b10" stroke="#222" stroke-width="1.7" fill-opacity="1"/>
<circle cx="827.0" cy="539.7" r="4.3" fill="#e06b10" stroke="#222" stroke-width="1.7" fill-opacity="1"/>
<circle cx="835.2" cy="539.7" r="4.3" fill="#e06b10" stroke="#222" stroke-width="1.7" fill-opacity="1"/>
<circle cx="842.5" cy="539.7" r="4.3" fill="#e06b10" stroke="#222" stroke-width="1.7" fill-opacity="1"/>
<circle cx="853.5" cy="539.7" r="4.3" fill="#e06b10" stroke="#222" stroke-width="1.7" fill-opacity="1"/>
<circle cx="829.0" cy="594.0" r="4.3" fill="#e06b10" stroke="#222" stroke-width="1.7" fill-opacity="1"/>
<circle cx="835.5" cy="594.0" r="4.3" fill="#e06b10" stroke="#222" stroke-width="1.7" fill-opacity="1"/>
<circle cx="842.0" cy="594.0" r="4.3" fill="#e06b10" stroke="#222" stroke-width="1.7" fill-opacity="1"/>
<circle cx="848.5" cy="594.0" r="4.3" fill="#e06b10" stroke="#222" stroke-width="1.7" fill-opacity="1"/>
<circle cx="855.0" cy="594.0" r="4.3" fill="#e06b10" stroke="#222" stroke-width="1.7" fill-opacity="1"/>
<line x1="842" y1="485.1" x2="842" y2="377.5" stroke="#3a3a3a" stroke-width="2"/>
<rect x="823.0" y="485.1" width="38" height="108.9" fill="#e06b10" fill-opacity="0.75" stroke="#4a2a10" stroke-width="2"/>
<line x1="823.0" y1="539.7" x2="861.0" y2="539.7" stroke="#4a2a10" stroke-width="3.8"/>
<circle cx="893.3" cy="365.4" r="4.3" fill="#161616" stroke="#222" stroke-width="1.7" fill-opacity="1"/>
<circle cx="886.5" cy="441.0" r="4.3" fill="#161616" stroke="#222" stroke-width="1.7" fill-opacity="1"/>
<circle cx="881.0" cy="518.1" r="4.3" fill="#161616" stroke="#222" stroke-width="1.7" fill-opacity="1"/>
<circle cx="891.1" cy="518.1" r="4.3" fill="#161616" stroke="#222" stroke-width="1.7" fill-opacity="1"/>
<circle cx="901.2" cy="518.1" r="4.3" fill="#161616" stroke="#222" stroke-width="1.7" fill-opacity="1"/>
<line x1="892" y1="441.0" x2="892" y2="365.4" stroke="#3a3a3a" stroke-width="2"/>
<rect x="873.0" y="441.0" width="38" height="77.1" fill="#161616" fill-opacity="0.75" stroke="#2a2a2a" stroke-width="2"/>
<line x1="873.0" y1="518.1" x2="911.0" y2="518.1" stroke="#2a2a2a" stroke-width="3.8"/>
<circle cx="945.3" cy="390.2" r="4.3" fill="#eea616" stroke="#222" stroke-width="1.7" fill-opacity="1"/>
<circle cx="940.7" cy="441.1" r="4.3" fill="#eea616" stroke="#222" stroke-width="1.7" fill-opacity="1"/>
<circle cx="944.4" cy="441.1" r="4.3" fill="#eea616" stroke="#222" stroke-width="1.7" fill-opacity="1"/>
<circle cx="934.4" cy="492.4" r="4.3" fill="#eea616" stroke="#222" stroke-width="1.7" fill-opacity="1"/>
<circle cx="938.0" cy="492.4" r="4.3" fill="#eea616" stroke="#222" stroke-width="1.7" fill-opacity="1"/>
<circle cx="949.4" cy="492.4" r="4.3" fill="#eea616" stroke="#222" stroke-width="1.7" fill-opacity="1"/>
<circle cx="925.0" cy="542.7" r="4.3" fill="#eea616" stroke="#222" stroke-width="1.7" fill-opacity="1"/>
<circle cx="933.5" cy="542.7" r="4.3" fill="#eea616" stroke="#222" stroke-width="1.7" fill-opacity="1"/>
<circle cx="942.0" cy="542.7" r="4.3" fill="#eea616" stroke="#222" stroke-width="1.7" fill-opacity="1"/>
<circle cx="950.5" cy="542.7" r="4.3" fill="#eea616" stroke="#222" stroke-width="1.7" fill-opacity="1"/>
<circle cx="959.0" cy="542.7" r="4.3" fill="#eea616" stroke="#222" stroke-width="1.7" fill-opacity="1"/>
<circle cx="930.0" cy="594.0" r="4.3" fill="#eea616" stroke="#222" stroke-width="1.7" fill-opacity="1"/>
<circle cx="934.4" cy="594.0" r="4.3" fill="#eea616" stroke="#222" stroke-width="1.7" fill-opacity="1"/>
<circle cx="941.5" cy="594.0" r="4.3" fill="#eea616" stroke="#222" stroke-width="1.7" fill-opacity="1"/>
<circle cx="950.3" cy="594.0" r="4.3" fill="#eea616" stroke="#222" stroke-width="1.7" fill-opacity="1"/>
<line x1="942" y1="492.4" x2="942" y2="390.2" stroke="#3a3a3a" stroke-width="2"/>
<line x1="942" y1="567.9" x2="942" y2="594.0" stroke="#3a3a3a" stroke-width="2"/>
<rect x="923.0" y="492.4" width="38" height="75.4" fill="#eea616" fill-opacity="0.75" stroke="#3a3020" stroke-width="2"/>
<line x1="923.0" y1="542.7" x2="961.0" y2="542.7" stroke="#3a3020" stroke-width="3.8"/>
<circle cx="991.3" cy="327.2" r="4.3" fill="#0076c0" stroke="#222" stroke-width="1.7" fill-opacity="1"/>
<circle cx="999.2" cy="327.2" r="4.3" fill="#0076c0" stroke="#222" stroke-width="1.7" fill-opacity="1"/>
<circle cx="994.2" cy="365.2" r="4.3" fill="#0076c0" stroke="#222" stroke-width="1.7" fill-opacity="1"/>
<circle cx="989.0" cy="403.4" r="4.3" fill="#0076c0" stroke="#222" stroke-width="1.7" fill-opacity="1"/>
<circle cx="990.2" cy="441.7" r="4.3" fill="#0076c0" stroke="#222" stroke-width="1.7" fill-opacity="1"/>
<circle cx="998.5" cy="441.7" r="4.3" fill="#0076c0" stroke="#222" stroke-width="1.7" fill-opacity="1"/>
<circle cx="982.9" cy="479.7" r="4.3" fill="#0076c0" stroke="#222" stroke-width="1.7" fill-opacity="1"/>
<circle cx="993.0" cy="479.7" r="4.3" fill="#0076c0" stroke="#222" stroke-width="1.7" fill-opacity="1"/>
<circle cx="976.8" cy="517.1" r="4.3" fill="#0076c0" stroke="#222" stroke-width="1.7" fill-opacity="1"/>
<circle cx="987.0" cy="517.1" r="4.3" fill="#0076c0" stroke="#222" stroke-width="1.7" fill-opacity="1"/>
<circle cx="997.1" cy="517.1" r="4.3" fill="#0076c0" stroke="#222" stroke-width="1.7" fill-opacity="1"/>
<circle cx="1002.4" cy="517.1" r="4.3" fill="#0076c0" stroke="#222" stroke-width="1.7" fill-opacity="1"/>
<circle cx="1007.7" cy="517.1" r="4.3" fill="#0076c0" stroke="#222" stroke-width="1.7" fill-opacity="1"/>
<circle cx="988.8" cy="556.0" r="4.3" fill="#0076c0" stroke="#222" stroke-width="1.7" fill-opacity="1"/>
<circle cx="992.2" cy="594.0" r="4.3" fill="#0076c0" stroke="#222" stroke-width="1.7" fill-opacity="1"/>
<line x1="992" y1="422.7" x2="992" y2="327.2" stroke="#3a3a3a" stroke-width="2"/>
<line x1="992" y1="517.1" x2="992" y2="594.0" stroke="#3a3a3a" stroke-width="2"/>
<rect x="973.0" y="422.7" width="38" height="94.4" fill="#0076c0" fill-opacity="0.75" stroke="#1a2a3a" stroke-width="2"/>
<line x1="973.0" y1="479.7" x2="1011.0" y2="479.7" stroke="#1a2a3a" stroke-width="3.8"/>
<circle cx="1040.2" cy="258.8" r="4.3" fill="#9e9e9e" stroke="#222" stroke-width="1.7" fill-opacity="1"/>
<circle cx="1043.6" cy="306.7" r="4.3" fill="#9e9e9e" stroke="#222" stroke-width="1.7" fill-opacity="1"/>
<circle cx="1030.9" cy="449.9" r="4.3" fill="#9e9e9e" stroke="#222" stroke-width="1.7" fill-opacity="1"/>
<circle cx="1052.0" cy="449.9" r="4.3" fill="#9e9e9e" stroke="#222" stroke-width="1.7" fill-opacity="1"/>
<circle cx="1040.4" cy="497.6" r="4.3" fill="#9e9e9e" stroke="#222" stroke-width="1.7" fill-opacity="1"/>
<circle cx="1027.1" cy="546.2" r="4.3" fill="#9e9e9e" stroke="#222" stroke-width="1.7" fill-opacity="1"/>
<circle cx="1047.5" cy="546.2" r="4.3" fill="#9e9e9e" stroke="#222" stroke-width="1.7" fill-opacity="1"/>
<circle cx="1053.6" cy="546.2" r="4.3" fill="#9e9e9e" stroke="#222" stroke-width="1.7" fill-opacity="1"/>
<circle cx="1036.0" cy="594.0" r="4.3" fill="#9e9e9e" stroke="#222" stroke-width="1.7" fill-opacity="1"/>
<circle cx="1043.0" cy="594.0" r="4.3" fill="#9e9e9e" stroke="#222" stroke-width="1.7" fill-opacity="1"/>
<line x1="1042" y1="546.2" x2="1042" y2="594.0" stroke="#3a3a3a" stroke-width="2"/>
<rect x="1023.0" y="449.9" width="38" height="96.4" fill="#9e9e9e" fill-opacity="0.75" stroke="#2e2e2e" stroke-width="2"/>
<line x1="1023.0" y1="521.9" x2="1061.0" y2="521.9" stroke="#2e2e2e" stroke-width="3.8"/>
<line x1="620.4" y1="95.6" x2="991.7" y2="95.6" stroke="#262626" stroke-width="1.7"/><path d="M817.50 90.80L817.50 87.05M817.50 90.80L821.07 89.64M817.50 90.80L819.70 93.83M817.50 90.80L815.30 93.83M817.50 90.80L813.93 89.64" stroke="#111" stroke-width="1.65" fill="none" stroke-linecap="butt"/><path d="M826.80 90.80L826.80 87.05M826.80 90.80L830.37 89.64M826.80 90.80L829.00 93.83M826.80 90.80L824.60 93.83M826.80 90.80L823.23 89.64" stroke="#111" stroke-width="1.65" fill="none" stroke-linecap="butt"/><path d="M836.10 90.80L836.10 87.05M836.10 90.80L839.67 89.64M836.10 90.80L838.30 93.83M836.10 90.80L833.90 93.83M836.10 90.80L832.53 89.64" stroke="#111" stroke-width="1.65" fill="none" stroke-linecap="butt"/>
<line x1="621.7" y1="107.3" x2="719.8" y2="107.3" stroke="#262626" stroke-width="1.7"/><path d="M659.70 102.50L659.70 98.75M659.70 102.50L663.27 101.34M659.70 102.50L661.90 105.53M659.70 102.50L657.50 105.53M659.70 102.50L656.13 101.34" stroke="#111" stroke-width="1.65" fill="none" stroke-linecap="butt"/><path d="M669.00 102.50L669.00 98.75M669.00 102.50L672.57 101.34M669.00 102.50L671.20 105.53M669.00 102.50L666.80 105.53M669.00 102.50L665.43 101.34" stroke="#111" stroke-width="1.65" fill="none" stroke-linecap="butt"/><path d="M678.30 102.50L678.30 98.75M678.30 102.50L681.87 101.34M678.30 102.50L680.50 105.53M678.30 102.50L676.10 105.53M678.30 102.50L674.73 101.34" stroke="#111" stroke-width="1.65" fill="none" stroke-linecap="butt"/>
<line x1="669" y1="119.2" x2="719.8" y2="119.2" stroke="#262626" stroke-width="1.7"/><path d="M690.35 114.40L690.35 110.65M690.35 114.40L693.92 113.24M690.35 114.40L692.55 117.43M690.35 114.40L688.15 117.43M690.35 114.40L686.78 113.24" stroke="#111" stroke-width="1.65" fill="none" stroke-linecap="butt"/><path d="M699.65 114.40L699.65 110.65M699.65 114.40L703.22 113.24M699.65 114.40L701.85 117.43M699.65 114.40L697.45 117.43M699.65 114.40L696.08 113.24" stroke="#111" stroke-width="1.65" fill="none" stroke-linecap="butt"/>
<line x1="720.2" y1="125.2" x2="941.7" y2="125.2" stroke="#262626" stroke-width="1.7"/><path d="M773.10 120.40L773.10 116.65M773.10 120.40L776.67 119.24M773.10 120.40L775.30 123.43M773.10 120.40L770.90 123.43M773.10 120.40L769.53 119.24" stroke="#111" stroke-width="1.65" fill="none" stroke-linecap="butt"/><path d="M782.40 120.40L782.40 116.65M782.40 120.40L785.97 119.24M782.40 120.40L784.60 123.43M782.40 120.40L780.20 123.43M782.40 120.40L778.83 119.24" stroke="#111" stroke-width="1.65" fill="none" stroke-linecap="butt"/><path d="M791.70 120.40L791.70 116.65M791.70 120.40L795.27 119.24M791.70 120.40L793.90 123.43M791.70 120.40L789.50 123.43M791.70 120.40L788.13 119.24" stroke="#111" stroke-width="1.65" fill="none" stroke-linecap="butt"/>
<line x1="720.2" y1="136.7" x2="841.1" y2="136.7" stroke="#262626" stroke-width="1.7"/><path d="M769.70 131.90L769.70 128.15M769.70 131.90L773.27 130.74M769.70 131.90L771.90 134.93M769.70 131.90L767.50 134.93M769.70 131.90L766.13 130.74" stroke="#111" stroke-width="1.65" fill="none" stroke-linecap="butt"/><path d="M779.00 131.90L779.00 128.15M779.00 131.90L782.57 130.74M779.00 131.90L781.20 134.93M779.00 131.90L776.80 134.93M779.00 131.90L775.43 130.74" stroke="#111" stroke-width="1.65" fill="none" stroke-linecap="butt"/><path d="M788.30 131.90L788.30 128.15M788.30 131.90L791.87 130.74M788.30 131.90L790.50 134.93M788.30 131.90L786.10 134.93M788.30 131.90L784.73 130.74" stroke="#111" stroke-width="1.65" fill="none" stroke-linecap="butt"/>
<line x1="720.2" y1="148.6" x2="771.5" y2="148.6" stroke="#262626" stroke-width="1.7"/><path d="M737.30 143.80L737.30 140.05M737.30 143.80L740.87 142.64M737.30 143.80L739.50 146.83M737.30 143.80L735.10 146.83M737.30 143.80L733.73 142.64" stroke="#111" stroke-width="1.65" fill="none" stroke-linecap="butt"/><path d="M746.60 143.80L746.60 140.05M746.60 143.80L750.17 142.64M746.60 143.80L748.80 146.83M746.60 143.80L744.40 146.83M746.60 143.80L743.03 142.64" stroke="#111" stroke-width="1.65" fill="none" stroke-linecap="butt"/><path d="M755.90 143.80L755.90 140.05M755.90 143.80L759.47 142.64M755.90 143.80L758.10 146.83M755.90 143.80L753.70 146.83M755.90 143.80L752.33 142.64" stroke="#111" stroke-width="1.65" fill="none" stroke-linecap="butt"/>
<g fill="none" stroke="#8c8c8c" stroke-opacity="0.6" stroke-width="3.4" stroke-linecap="square" stroke-linejoin="miter" transform="translate(0.6,0.8)"><path transform="translate(823,649.5)" d="M4 1L1 9" /><path transform="translate(823,649.5)" d="M2 7L12 7" /><path transform="translate(823,649.5)" d="M1 14L13 14" /><path transform="translate(823,649.5)" d="M7 2L7 14L1 26" /><path transform="translate(823,649.5)" d="M7.5 16L13 25" /><path transform="translate(823,649.5)" d="M15.5 8L26.5 8L26.5 24L15.5 24Z" /><path transform="translate(856.5,649.5)" d="M23 1L5 5" /><path transform="translate(856.5,649.5)" d="M8 8L10.5 12.5" /><path transform="translate(856.5,649.5)" d="M20 8L17.5 12.5" /><path transform="translate(856.5,649.5)" d="M1 15L27 15" /><path transform="translate(856.5,649.5)" d="M14 5L14 26.5L9.5 24.5" /><path transform="translate(898,649.5)" d="M19 8.5L17.5 17.5Q17.5 20 20 20Q25 19 25 12.5Q25 3 14 3Q3 3 3 14Q3 25 14 25Q19 25 22 23" /><path transform="translate(898,649.5)" d="M18 11Q16 8.5 13 9Q9 10 9 15Q9 19 12.5 19Q16 18.5 17.7 15" /><path transform="translate(931,649.5)" d="M9 1L4 6" /><path transform="translate(931,649.5)" d="M19 1L24 6" /><path transform="translate(931,649.5)" d="M14 5L2 16" /><path transform="translate(931,649.5)" d="M14 5L26 16" /><path transform="translate(931,649.5)" d="M6.5 17L21.5 17L21.5 27L6.5 27Z" /><path transform="translate(962,649.5)" d="M23 1L5 4.5" /><path transform="translate(962,649.5)" d="M1.5 10.5L26.5 10.5" /><path transform="translate(962,649.5)" d="M14 3.5L14 27.5" /><path transform="translate(962,649.5)" d="M13.5 11L3 22" /><path transform="translate(962,649.5)" d="M14.5 11L25.5 21.5" /><path transform="translate(995,649.5)" d="M7 1L2 11" /><path transform="translate(995,649.5)" d="M5 7L5 27.5" /><path transform="translate(995,649.5)" d="M9 9L13.5 9L10 17L14 21" /><path transform="translate(995,649.5)" d="M8.5 19L12 25.5Q15 27 27 27" /><path transform="translate(995,649.5)" d="M14 4.5L26 4.5" /><path transform="translate(995,649.5)" d="M12.5 9.5L27 9.5" /><path transform="translate(995,649.5)" d="M14 14.5L26 14.5" /><path transform="translate(995,649.5)" d="M14 19.5L26 19.5" /><path transform="translate(995,649.5)" d="M20 1L20 24" /><path transform="translate(1024,649.5)" d="M14 0L14 3" /><path transform="translate(1024,649.5)" d="M3.5 4L27 4" /><path transform="translate(1024,649.5)" d="M4 4L4 16Q4 23 1 27.5" /><path transform="translate(1024,649.5)" d="M8 9L24 9L24 13" /><path transform="translate(1024,649.5)" d="M6 13.5L27 13.5" /><path transform="translate(1024,649.5)" d="M9 18.5L24 18.5" /><path transform="translate(1024,649.5)" d="M16.5 6L16.5 27.5" /><path transform="translate(1024,649.5)" d="M16 21L8.5 26.5" /><path transform="translate(1024,649.5)" d="M17 21L26.5 27" /><path transform="translate(1024,649.5)" d="M9 21L11 23.5" /><path transform="translate(1024,649.5)" d="M24 20L21.5 22.5" /></g>
<g fill="none" stroke="#ffffff" stroke-opacity="0.95" stroke-width="2.1" stroke-linecap="square" stroke-linejoin="miter"><path transform="translate(823,649.5)" d="M4 1L1 9" /><path transform="translate(823,649.5)" d="M2 7L12 7" /><path transform="translate(823,649.5)" d="M1 14L13 14" /><path transform="translate(823,649.5)" d="M7 2L7 14L1 26" /><path transform="translate(823,649.5)" d="M7.5 16L13 25" /><path transform="translate(823,649.5)" d="M15.5 8L26.5 8L26.5 24L15.5 24Z" /><path transform="translate(856.5,649.5)" d="M23 1L5 5" /><path transform="translate(856.5,649.5)" d="M8 8L10.5 12.5" /><path transform="translate(856.5,649.5)" d="M20 8L17.5 12.5" /><path transform="translate(856.5,649.5)" d="M1 15L27 15" /><path transform="translate(856.5,649.5)" d="M14 5L14 26.5L9.5 24.5" /><path transform="translate(898,649.5)" d="M19 8.5L17.5 17.5Q17.5 20 20 20Q25 19 25 12.5Q25 3 14 3Q3 3 3 14Q3 25 14 25Q19 25 22 23" /><path transform="translate(898,649.5)" d="M18 11Q16 8.5 13 9Q9 10 9 15Q9 19 12.5 19Q16 18.5 17.7 15" /><path transform="translate(931,649.5)" d="M9 1L4 6" /><path transform="translate(931,649.5)" d="M19 1L24 6" /><path transform="translate(931,649.5)" d="M14 5L2 16" /><path transform="translate(931,649.5)" d="M14 5L26 16" /><path transform="translate(931,649.5)" d="M6.5 17L21.5 17L21.5 27L6.5 27Z" /><path transform="translate(962,649.5)" d="M23 1L5 4.5" /><path transform="translate(962,649.5)" d="M1.5 10.5L26.5 10.5" /><path transform="translate(962,649.5)" d="M14 3.5L14 27.5" /><path transform="translate(962,649.5)" d="M13.5 11L3 22" /><path transform="translate(962,649.5)" d="M14.5 11L25.5 21.5" /><path transform="translate(995,649.5)" d="M7 1L2 11" /><path transform="translate(995,649.5)" d="M5 7L5 27.5" /><path transform="translate(995,649.5)" d="M9 9L13.5 9L10 17L14 21" /><path transform="translate(995,649.5)" d="M8.5 19L12 25.5Q15 27 27 27" /><path transform="translate(995,649.5)" d="M14 4.5L26 4.5" /><path transform="translate(995,649.5)" d="M12.5 9.5L27 9.5" /><path transform="translate(995,649.5)" d="M14 14.5L26 14.5" /><path transform="translate(995,649.5)" d="M14 19.5L26 19.5" /><path transform="translate(995,649.5)" d="M20 1L20 24" /><path transform="translate(1024,649.5)" d="M14 0L14 3" /><path transform="translate(1024,649.5)" d="M3.5 4L27 4" /><path transform="translate(1024,649.5)" d="M4 4L4 16Q4 23 1 27.5" /><path transform="translate(1024,649.5)" d="M8 9L24 9L24 13" /><path transform="translate(1024,649.5)" d="M6 13.5L27 13.5" /><path transform="translate(1024,649.5)" d="M9 18.5L24 18.5" /><path transform="translate(1024,649.5)" d="M16.5 6L16.5 27.5" /><path transform="translate(1024,649.5)" d="M16 21L8.5 26.5" /><path transform="translate(1024,649.5)" d="M17 21L26.5 27" /><path transform="translate(1024,649.5)" d="M9 21L11 23.5" /><path transform="translate(1024,649.5)" d="M24 20L21.5 22.5" /></g>
</svg>
</body></html>
